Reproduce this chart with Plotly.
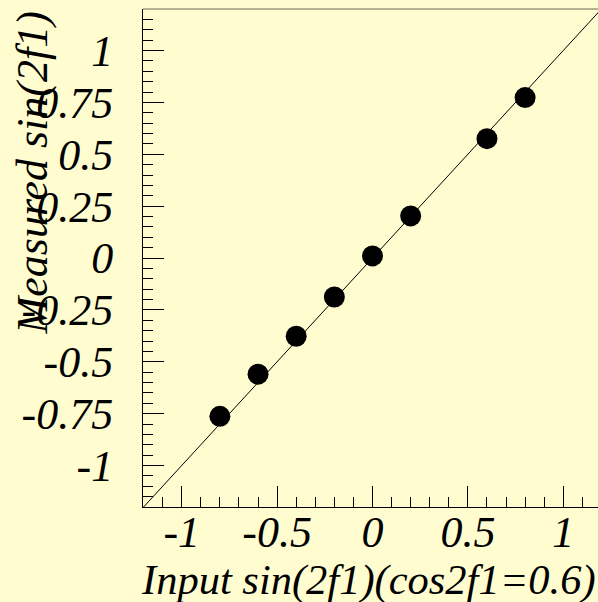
import plotly.graph_objects as go

# Data
input_x = [-0.8, -0.6, -0.4, -0.2, 0.0, 0.2, 0.6, 0.8]
measured_y = [-0.763, -0.560, -0.377, -0.188, 0.010, 0.203, 0.575, 0.773]
diag = [-1.2, 1.2]

x_tickvals = [-1, -0.5, 0, 0.5, 1]
x_ticktext = ["-1", "-0.5", "0", "0.5", "1"]
y_tickvals = [-1, -0.75, -0.5, -0.25, 0, 0.25, 0.5, 0.75, 1]
y_ticktext = ["-1", "-0.75", "-0.5", "-0.25", "0", "0.25", "0.5", "0.75", "1"]

bg = "#fffdd0"
font_family = "Liberation Serif"
tick_font = dict(family=font_family, size=44, color="black", style="italic")
xtitle_font = dict(family=font_family, size=42.5, color="black", style="italic")
ytitle_font = dict(family=font_family, size=44, color="black", style="italic")

fig = go.Figure()
fig.add_trace(go.Scatter(x=diag, y=diag, mode="lines",
                         line=dict(color="black", width=1), hoverinfo="skip"))
fig.add_trace(go.Scatter(x=input_x, y=measured_y, mode="markers",
                         marker=dict(color="black", size=21)))

fig.update_layout(
    width=598, height=602,
    margin=dict(l=143, r=0, t=9, b=95),
    paper_bgcolor=bg, plot_bgcolor=bg,
    showlegend=False,
    xaxis=dict(range=[-1.203, 1.182], showgrid=False, zeroline=False,
               showline=True, linecolor="black", linewidth=1,
               ticks="inside", ticklen=21, tickwidth=1, tickcolor="black",
               tickmode="array", tickvals=x_tickvals, ticktext=x_ticktext,
               tickfont=tick_font, ticklabelstandoff=-14,
               minor=dict(ticks="inside", ticklen=10, tickwidth=1,
                          tickcolor="black", dtick=0.1, tick0=0, showgrid=False)),
    yaxis=dict(range=[-1.2, 1.2], showgrid=False, zeroline=False,
               showline=True, linecolor="black", linewidth=1,
               ticks="inside", ticklen=21, tickwidth=1, tickcolor="black",
               tickmode="array", tickvals=y_tickvals, ticktext=y_ticktext,
               tickfont=tick_font, ticklabelstandoff=20,
               minor=dict(ticks="inside", ticklen=10, tickwidth=1,
                          tickcolor="black", dtick=0.05, tick0=0, showgrid=False)),
    shapes=[dict(type="line", xref="paper", yref="paper", x0=0, x1=1, y0=1, y1=1,
                 line=dict(color="#6b6b55", width=1))],
    annotations=[
        dict(text="Input sin(2f1)(cos2f1=0.6)", xref="paper", yref="paper",
             x=1.0, y=-0.1466, xanchor="right", yanchor="middle",
             showarrow=False, font=xtitle_font),
        dict(text="Measured sin(2f1)", xref="paper", yref="paper",
             x=-0.242, y=1.0, xanchor="center", yanchor="top", textangle=-90,
             showarrow=False, font=ytitle_font),
    ],
)

fig.write_html("out.html")
